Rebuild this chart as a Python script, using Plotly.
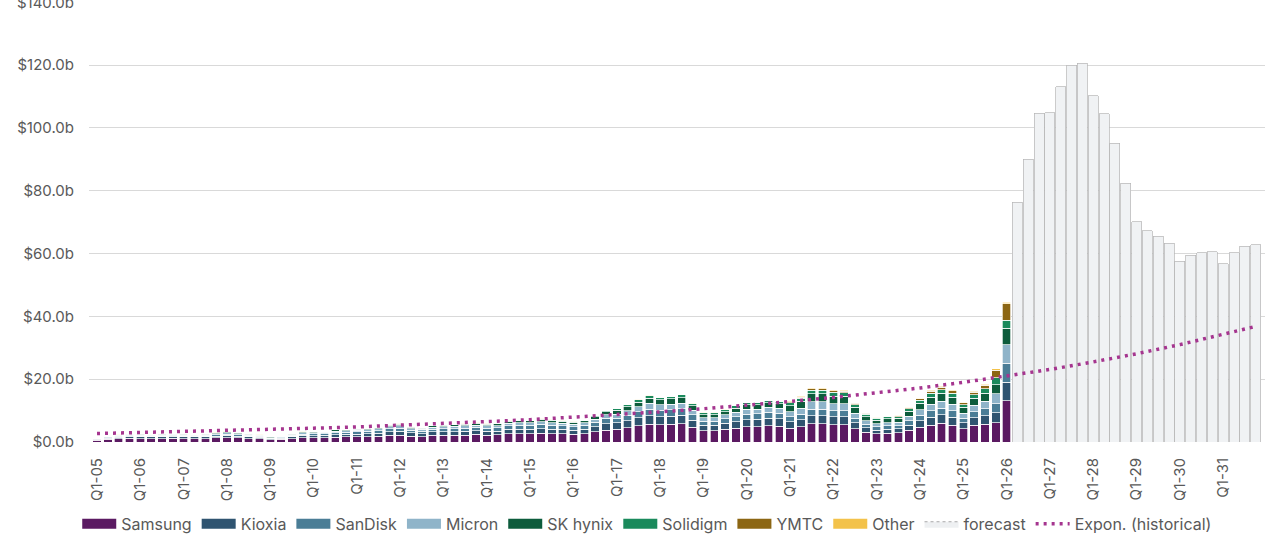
import plotly.graph_objects as go

# quarter labels Q1-05 .. Q4-31
years = ["05", "06", "07", "08", "09", "10", "11", "12", "13", "14", "15", "16", "17", "18",
         "19", "20", "21", "22", "23", "24", "25", "26", "27", "28", "29", "30", "31"]
categories = [f"Q{q}-{y}" for y in years for q in (1, 2, 3, 4)]
tick_labels = [f"Q1-{y}" for y in years]
y_ticks = [0, 20, 40, 60, 80, 100, 120, 140]
y_tick_labels = ["$0.0b", "$20.0b", "$40.0b", "$60.0b", "$80.0b", "$100.0b", "$120.0b", "$140.0b"]

# historical revenue by supplier, $b, Q1-05 .. Q1-26 (85 quarters)
samsung = [0.5, 0.8, 1.0, 1.2, 1.1, 1.1, 1.1, 1.2, 1.1, 1.1, 1.1, 1.3, 1.4, 1.3, 1.1, 1.0, 0.7, 0.8, 1.1, 1.4,
           1.3, 1.4, 1.5, 1.6, 1.6, 1.7, 1.8, 2.1, 2.2, 1.9, 1.7, 2.1, 2.1, 2.2, 2.2, 2.4, 2.2, 2.3, 2.6, 2.7,
           2.7, 2.8, 2.7, 2.6, 2.5, 2.7, 3.2, 3.8, 4.1, 4.6, 5.2, 5.7, 5.5, 5.6, 5.8, 4.7, 3.6, 3.6, 4.0, 4.4,
           4.8, 4.9, 5.1, 5.0, 4.4, 4.9, 5.8, 5.8, 5.5, 5.5, 4.2, 3.1, 2.6, 2.8, 2.9, 3.7, 4.7, 5.4, 5.9, 5.4,
           4.2, 5.3, 5.6, 6.1, 13.1]
kioxia = [0.3, 0.4, 0.5, 0.6, 0.5, 0.5, 0.5, 0.6, 0.5, 0.5, 0.5, 0.6, 0.7, 0.6, 0.5, 0.5, 0.3, 0.4, 0.5, 0.7,
          0.7, 0.7, 0.8, 0.8, 0.9, 0.9, 1.0, 1.1, 1.2, 1.0, 0.9, 1.1, 1.1, 1.1, 1.2, 1.2, 1.2, 1.2, 1.4, 1.4,
          1.4, 1.5, 1.4, 1.4, 1.3, 1.4, 1.7, 2.0, 2.0, 2.2, 2.5, 2.7, 2.6, 2.6, 2.7, 2.2, 1.7, 1.7, 1.9, 2.1,
          2.3, 2.3, 2.4, 2.4, 2.0, 2.2, 2.6, 2.6, 2.5, 2.5, 1.9, 1.4, 1.2, 1.3, 1.3, 1.7, 2.1, 2.5, 2.7, 2.5,
          1.9, 2.4, 2.8, 3.2, 6.0]
sandisk = [0.2, 0.2, 0.3, 0.3, 0.3, 0.3, 0.3, 0.3, 0.3, 0.3, 0.3, 0.4, 0.4, 0.4, 0.3, 0.3, 0.2, 0.2, 0.3, 0.4,
           0.6, 0.6, 0.7, 0.7, 0.7, 0.8, 0.8, 1.0, 1.0, 0.8, 0.8, 0.9, 1.0, 1.0, 1.0, 1.1, 1.0, 1.0, 1.2, 1.2,
           1.2, 1.3, 1.2, 1.2, 1.1, 1.2, 1.4, 1.7, 1.5, 1.7, 1.9, 2.1, 2.0, 2.1, 2.1, 1.7, 1.3, 1.3, 1.5, 1.6,
           1.8, 1.8, 1.9, 1.8, 1.6, 1.8, 2.1, 2.1, 2.0, 2.0, 1.5, 1.1, 1.0, 1.0, 1.0, 1.3, 1.7, 2.0, 2.1, 2.0,
           1.5, 1.9, 2.2, 2.9, 5.9]
micron = [0.1, 0.2, 0.3, 0.3, 0.3, 0.3, 0.3, 0.3, 0.3, 0.3, 0.3, 0.3, 0.4, 0.4, 0.3, 0.3, 0.2, 0.2, 0.3, 0.4,
          0.4, 0.4, 0.5, 0.5, 0.5, 0.5, 0.6, 0.7, 0.7, 0.6, 0.6, 0.6, 0.7, 0.7, 0.7, 0.7, 0.7, 0.7, 0.8, 0.8,
          0.8, 0.9, 0.9, 0.8, 0.8, 0.8, 1.0, 1.2, 1.3, 1.5, 1.6, 1.8, 1.7, 1.8, 1.8, 1.5, 1.1, 1.1, 1.2, 1.4,
          1.5, 1.5, 1.6, 1.6, 1.7, 1.9, 2.3, 2.3, 2.2, 2.2, 1.6, 1.2, 1.0, 1.1, 1.1, 1.5, 1.8, 2.1, 2.3, 2.1,
          1.6, 2.1, 2.4, 3.2, 6.0]
sk_hynix = [0.1, 0.2, 0.2, 0.3, 0.3, 0.2, 0.3, 0.3, 0.3, 0.2, 0.3, 0.3, 0.3, 0.3, 0.3, 0.2, 0.2, 0.2, 0.3, 0.3,
            0.3, 0.3, 0.4, 0.4, 0.4, 0.4, 0.4, 0.5, 0.5, 0.4, 0.4, 0.5, 0.5, 0.5, 0.5, 0.6, 0.5, 0.6, 0.6, 0.6,
            0.6, 0.7, 0.7, 0.6, 0.6, 0.6, 0.8, 0.9, 1.2, 1.3, 1.5, 1.6, 1.6, 1.6, 1.7, 1.4, 1.0, 1.0, 1.1, 1.3,
            1.4, 1.4, 1.5, 1.4, 1.9, 2.1, 2.5, 2.5, 2.4, 2.3, 1.8, 1.3, 1.1, 1.2, 1.2, 1.6, 2.0, 2.3, 2.5, 2.3,
            1.8, 2.2, 2.6, 2.9, 5.3]
solidigm = [0.0, 0.0, 0.0, 0.1, 0.1, 0.1, 0.1, 0.1, 0.1, 0.1, 0.1, 0.1, 0.1, 0.1, 0.1, 0.0, 0.0, 0.0, 0.1, 0.1,
            0.1, 0.1, 0.1, 0.1, 0.1, 0.1, 0.1, 0.2, 0.2, 0.1, 0.1, 0.2, 0.2, 0.2, 0.2, 0.2, 0.2, 0.2, 0.2, 0.2,
            0.2, 0.2, 0.2, 0.2, 0.2, 0.2, 0.2, 0.3, 0.7, 0.7, 0.8, 0.9, 0.9, 0.9, 0.9, 0.7, 0.6, 0.6, 0.6, 0.7,
            0.8, 0.8, 0.8, 0.8, 0.9, 1.0, 1.2, 1.2, 1.2, 1.2, 0.9, 0.7, 0.6, 0.6, 0.6, 0.8, 1.0, 1.2, 1.2, 1.2,
            0.9, 1.1, 1.3, 2.2, 2.4]
ymtc = [0.0] * 20 + [0.0] * 28 + [0.0] * 16 + [
        0.3, 0.4, 0.5, 0.5, 0.5, 0.5, 0.4, 0.3, 0.2, 0.2, 0.2, 0.3, 0.4, 0.6, 0.8, 0.8,
        0.6, 0.9, 1.2, 2.4, 5.3]
other = [0.1, 0.0, 0.1, 0.1, 0.1, 0.1, 0.1, 0.1, 0.1, 0.1, 0.1, 0.1, 0.1, 0.1, 0.1, 0.1, 0.0, 0.0, 0.1, 0.1,
         0.1, 0.1, 0.1, 0.1, 0.1, 0.1, 0.1, 0.1, 0.1, 0.1, 0.1, 0.1, 0.1, 0.1, 0.1, 0.1, 0.1, 0.1, 0.1, 0.1,
         0.1, 0.1, 0.1, 0.1, 0.1, 0.1, 0.1, 0.1, 0.1, 0.1, 0.1, 0.1, 0.1, 0.1, 0.1, 0.1, 0.1, 0.1, 0.1, 0.1,
         0.1, 0.1, 0.1, 0.1, 0.3, 0.3, 0.3, 0.3, 0.3, 0.3, 0.2, 0.2, 0.2, 0.2, 0.2, 0.2, 0.3, 0.3, 0.3, 0.3,
         0.2, 0.3, 0.3, 0.4, 0.5]

# forecast totals, Q2-26 .. Q4-31
forecast = [76.3, 90.0, 104.7, 104.9, 113.1, 119.9, 120.6, 110.3, 104.5, 95.2, 82.4, 70.2,
            67.3, 65.5, 63.3, 57.5, 59.4, 60.2, 60.6, 56.7, 60.2, 62.3, 62.8]

# exponential trendline of the historical totals, read at each Q1 and at the last quarter
trend_x = tick_labels + ["Q4-31"]
trend_y = [2.7, 3.0, 3.3, 3.6, 4.0, 4.4, 4.8, 5.3, 5.9, 6.5, 7.1, 7.9, 8.7, 9.6, 10.6, 11.7, 12.9, 14.2,
           15.6, 17.2, 19.0, 21.0, 23.1, 25.5, 28.1, 31.0, 34.2, 36.8]

series = [
    ("Samsung", samsung, "#5b1a62"),
    ("Kioxia", kioxia, "#2f5470"),
    ("SanDisk", sandisk, "#4a7d96"),
    ("Micron", micron, "#8fb4c9"),
    ("SK hynix", sk_hynix, "#0d5c3c"),
    ("Solidigm", solidigm, "#1a8a5c"),
    ("YMTC", ymtc, "#8c6613"),
    ("Other", other, "#f3c24a"),
]

hist_x = categories[:len(samsung)]
fc_x = categories[len(samsung):]
grey_text = "#595959"

fig = go.Figure()
for name, vals, color in series:
    fig.add_trace(go.Bar(x=hist_x, y=vals, name=name, width=0.78, showlegend=False,
                         marker=dict(color=color, line=dict(color="white", width=0.7))))
fig.add_trace(go.Bar(x=fc_x, y=forecast, name="forecast", width=0.92, showlegend=False,
                     marker=dict(color="#f0f2f4", line=dict(color="#b5b5b5", width=0.7))))
fig.add_trace(go.Scatter(x=trend_x, y=trend_y, mode="lines", name="Expon. (historical)",
                         showlegend=False, line=dict(color="#a5358f", width=3.5, dash="3px,5px")))

# legend-only entries (wide swatches like the original)
for name, vals, color in series:
    fig.add_trace(go.Scatter(x=[None], y=[None], mode="lines", name=name,
                             line=dict(color=color, width=10)))
fig.add_trace(go.Scatter(x=[None], y=[None], mode="lines", name="forecast", fill="toself",
                         fillcolor="#eef0f2", line=dict(color="#a9a9a9", width=1, dash="dot")))
fig.add_trace(go.Scatter(x=[None], y=[None], mode="lines", name="Expon. (historical)",
                         line=dict(color="#a5358f", width=3.5, dash="3px,5px")))

fig.update_layout(
    width=1280, height=545,
    margin=dict(l=89, r=15, t=2, b=103),
    barmode="stack",
    plot_bgcolor="white", paper_bgcolor="white",
    font=dict(family="Inter", color=grey_text),
    legend=dict(orientation="h", traceorder="normal", x=-0.01, xanchor="left", y=-0.186,
                yanchor="middle", font=dict(size=16, color=grey_text), itemwidth=34),
)
fig.update_xaxes(type="category", categoryorder="array", categoryarray=categories,
                 range=[-0.74, 107.86], tickmode="array", tickvals=tick_labels, ticktext=tick_labels,
                 tickangle=-90, tickfont=dict(size=15, color=grey_text), showgrid=False,
                 showline=False, ticks="", ticklabelstandoff=12, automargin=False)
fig.update_yaxes(range=[0, 140.1], tickmode="array", tickvals=y_ticks, ticktext=y_tick_labels,
                 showgrid=True, gridcolor="#d9d9d9", gridwidth=1, zeroline=False,
                 ticklabeloverflow="allow", automargin=False,
                 tickfont=dict(size=15, color=grey_text), ticks="", ticklabelstandoff=14)

# page body has a default 8px margin; drop it so the figure sits at the window corner
fig.write_html("out.html", config={"displayModeBar": False},
               post_script="document.body.style.margin='0';")
